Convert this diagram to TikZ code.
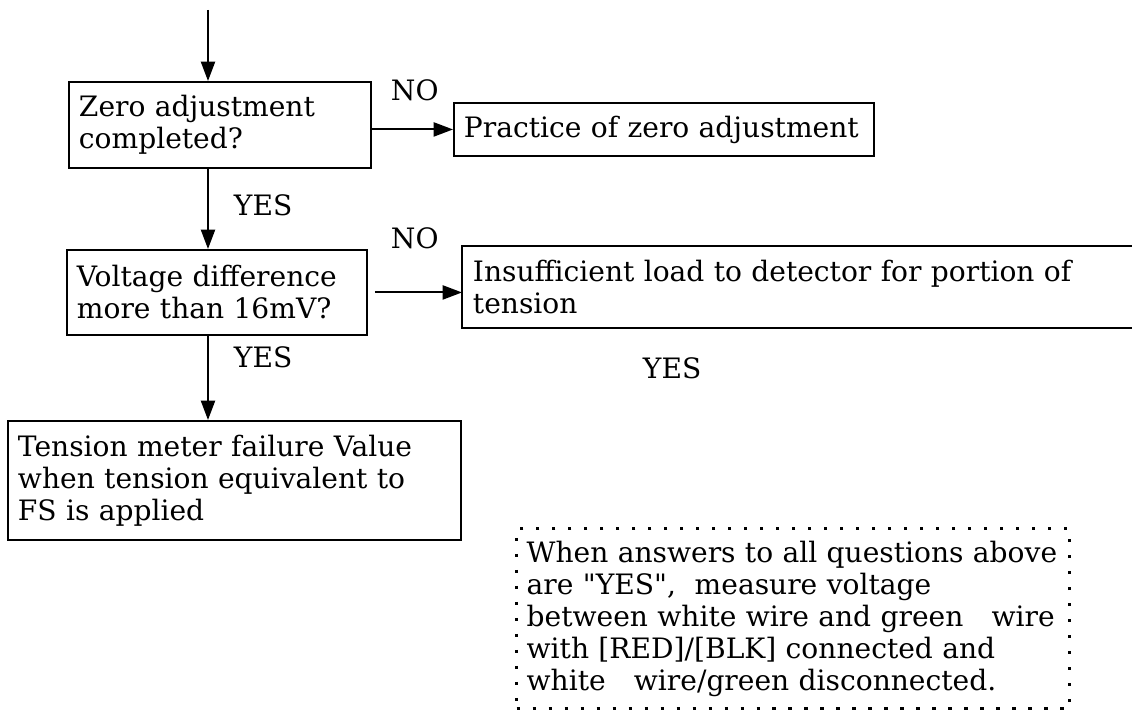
\documentclass[tikz,border=0pt]{standalone}
\usepackage{fontspec}
\setmainfont{DejaVu Serif}[Ligatures=TeXOff]
\usetikzlibrary{arrows.meta}

\begin{document}
\begin{tikzpicture}[x=0.02cm,y=-0.02cm,line width=1.1pt,
  txt/.style={font=\fontsize{16}{18.2}\selectfont},
  box/.style={txt,draw,anchor=north west,align=left,inner xsep=0.2cm},
  lbl/.style={txt,anchor=west,inner sep=0pt},
  flow/.style={-{Triangle[length=11pt,width=8pt]}}]
\useasboundingbox (0,0) rectangle (1132,712);
\coordinate (top) at (208,10);
\node[box,minimum width=6.04cm,minimum height=1.72cm,text width=5.64cm] (zero) at (68,81) {Zero adjustment\\completed?};
\node[box,minimum width=8.4cm,minimum height=1.06cm,text width=8.0cm] (prac) at (453,102) {\mbox{Practice of zero adjustment}};
\node[box,minimum width=6.0cm,minimum height=1.7cm,text width=5.6cm] (volt) at (66,249) {Voltage difference\\more than 16mV?};
\node[box,draw=none,minimum width=13.6cm,minimum height=1.6cm,text width=13.2cm] (ins) at (462,246) {Insufficient load to detector for portion of\\tension};
\node[box,minimum width=9.06cm,minimum height=2.38cm,text width=8.66cm] (fail) at (7,420) {Tension meter failure Value\\when tension equivalent to\\FS is applied};
\node[box,draw,line width=1.9pt,dash pattern=on 1.9pt off 7.2pt,minimum width=11.06cm,minimum height=3.6cm,text width=10.66cm] (note) at (515,527) {When answers to all questions above\\are "YES",\ \ measure voltage\\between white wire and green\quad wire\\with [RED]/[BLK] connected and\\white\quad wire/green disconnected.};
\draw (ins.north east) -- (ins.north west) -- (ins.south west) -- (ins.south east);
\draw[flow] (top) -- (zero.north -| top);
\draw[flow] (zero.south -| top) -- (volt.north -| top);
\draw[flow] (volt.south -| top) -- (fail.north -| top);
\draw[flow] (zero.east |- prac.west) -- (prac.west);
\draw[flow] (volt.east) ++(7,0) -- (ins.west |- volt.east);
\node[lbl] (no1) at (390,90) {NO};
\node[lbl] (no2) at (390,238) {NO};
\node[lbl] (yes1) at (233,205) {YES};
\node[lbl] (yes2) at (233,357) {YES};
\node[lbl] (yes3) at (642,368) {YES};
\end{tikzpicture}
\end{document}
